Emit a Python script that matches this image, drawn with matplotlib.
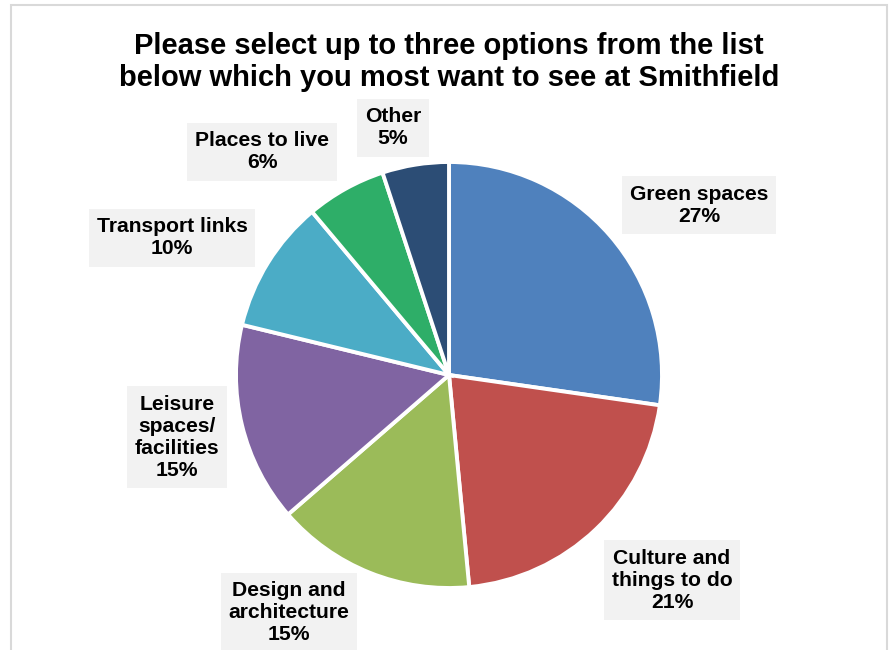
import matplotlib.pyplot as plt
from matplotlib.patches import Rectangle

# Survey answers (share of responses, %)
categories = ['Green spaces', 'Culture and\nthings to do', 'Design and\narchitecture',
              'Leisure\nspaces/\nfacilities', 'Transport links', 'Places to live', 'Other']
values = [27, 21, 15, 15, 10, 6, 5]
colors = ['#4F81BD', '#C0504D', '#9BBB59', '#8064A2', '#4BACC6', '#2EAE68', '#2C4D75']

# label centres in pixel space (x, y from top)
label_pos = [(699, 205), (672, 580), (289, 613), (177, 437), (172, 238), (262, 152), (393, 128)]

W, H = 891, 650
plt.rcParams['font.family'] = ['Liberation Sans', 'DejaVu Sans']

fig = plt.figure(figsize=(W / 100, H / 100), dpi=100)
ax = fig.add_axes([0, 0, 1, 1])

ax.pie(values, colors=colors, startangle=90, counterclock=False,
       center=(449, H - 375), radius=213,
       wedgeprops=dict(edgecolor='white', linewidth=2.8))

# pie() resets the limits, so set pixel-space limits afterwards
ax.set_xlim(0, W)
ax.set_ylim(0, H)
ax.set_aspect('equal')
ax.axis('off')

# outer chart frame
ax.add_patch(Rectangle((11, -20), 876, H - 5 + 20, fill=False, edgecolor='#d9d9d9', lw=1.5))

for cat, v, (x, y) in zip(categories, values, label_pos):
    ax.text(x, H - y, f'{cat}\n{v}%', ha='center', va='center', fontsize=15.2,
            fontweight='bold', linespacing=1.2,
            bbox=dict(boxstyle='square,pad=0.38', facecolor='#F2F2F2', edgecolor='none'))

ax.text(449, H - 62, 'Please select up to three options from the list\n'
        'below which you most want to see at Smithfield',
        ha='center', va='center', fontsize=21, fontweight='bold', linespacing=1.2)

fig.savefig('out.png', dpi=100)
